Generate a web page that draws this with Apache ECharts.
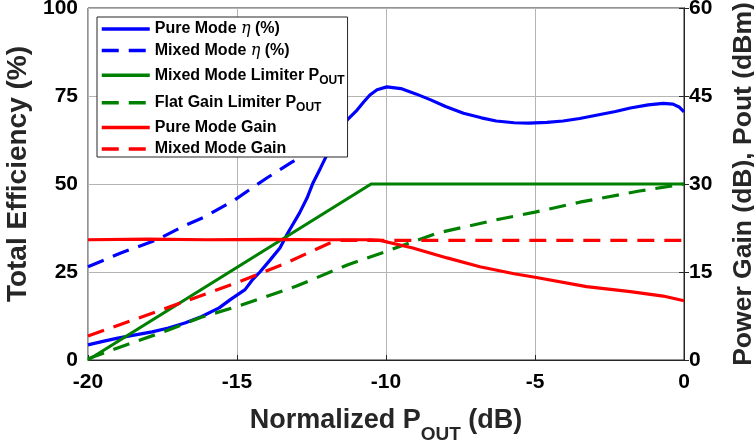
<!DOCTYPE html>
<html>
<head>
<meta charset="utf-8">
<script src="https://cdn.jsdelivr.net/npm/echarts@6/dist/echarts.min.js"></script>
<style>
html,body{margin:0;padding:0;background:#fff;}
#chart{width:754px;height:442px;}
</style>
</head>
<body>
<div id="chart"></div>
<script>
// ---- data ----
const xTicks = [-20, -15, -10, -5, 0];
const leftTicks = [0, 25, 50, 75, 100];
const rightTicks = [0, 15, 30, 45, 60];

const pureModeEff = [
  [-20, 4.3], [-19.5, 5.3], [-19, 6.2], [-18.5, 7.0], [-17.85, 8.0], [-17.3, 9.1],
  [-16.75, 10.5], [-16.2, 12.3], [-15.6, 14.8], [-15.2, 17.3], [-14.73, 20.0],
  [-14.5, 22.6], [-14.23, 25.0], [-13.9, 28.3], [-13.56, 31.8], [-13.3, 36.0],
  [-12.9, 41.8], [-12.65, 46.0], [-12.45, 50.3], [-12.2, 54.5], [-11.9, 59.7],
  [-11.6, 64.5], [-11.3, 68.2], [-10.97, 71.0], [-10.75, 73.3], [-10.54, 75.3],
  [-10.3, 76.8], [-9.97, 77.6], [-9.5, 77.1], [-9, 75.6], [-8.5, 73.9], [-8, 72.0],
  [-7.4, 70.1], [-6.8, 68.8], [-6.3, 67.9], [-5.7, 67.4], [-5.2, 67.3], [-4.6, 67.5],
  [-4.06, 67.9], [-3.5, 68.6], [-2.9, 69.6], [-2.3, 70.6], [-1.8, 71.6], [-1.2, 72.5],
  [-0.7, 72.9], [-0.37, 72.7], [-0.15, 71.8], [0, 70.5]
];
const mixedModeEff = [
  [-20, 26.5], [-18.9, 30.4], [-17.7, 34.1], [-16.7, 38.4], [-16.1, 40.6],
  [-15.07, 45.5], [-14.46, 49.1], [-14.0, 51.7], [-13.2, 56.0], [-12.5, 59.5]
];
const mixedLimiterPout = [[-20, 0], [-10.5, 30], [0, 30]];
const flatLimiterPout = [
  [-20, 0.2], [-18.7, 2.6], [-17.3, 5.1], [-16.2, 7.3], [-15, 9.1], [-13, 12.6],
  [-11.3, 16.2], [-10, 18.5], [-8.3, 21.6], [-6.3, 23.9], [-5, 25.2], [-3.5, 26.9],
  [-1.5, 28.8], [0, 30]
];
const pureModeGain = [
  [-20, 20.5], [-18, 20.6], [-16, 20.5], [-14, 20.55], [-12, 20.5], [-10.5, 20.5],
  [-10.2, 20.4], [-9.1, 19.1], [-7.95, 17.4], [-6.85, 15.9], [-5.7, 14.7], [-5, 14.1],
  [-3.27, 12.5], [-1.8, 11.65], [-0.7, 10.9], [0, 10.1]
];
const mixedModeGain = [
  [-20, 4.1], [-17.5, 8.6], [-15, 13.2], [-13.5, 16.2], [-11.9, 19.9], [-11.5, 20.4], [0, 20.4]
];

const seriesNames = [
  'Pure Mode η (%)', 'Mixed Mode η (%)', 'Mixed Mode Limiter POUT',
  'Flat Gain Limiter POUT', 'Pure Mode Gain', 'Mixed Mode Gain'
];

// ---- chart ----
const FONT = '"Liberation Sans", Arial, Helvetica, sans-serif';
const BLUE = '#0000ff', GREEN = '#008000', RED = '#ff0000';
const DASH = [17, 10];
const chart = echarts.init(document.getElementById('chart'), null, {renderer: 'canvas'});

function line(name, data, color, dashed, yIdx) {
  return {
    name: name, type: 'line', data: data, yAxisIndex: yIdx,
    symbol: 'none', showSymbol: false, smooth: false,
    lineStyle: {color: color, width: 3.2, type: dashed ? DASH : 'solid'},
    itemStyle: {color: color},
    emphasis: {disabled: true}, animation: false
  };
}

const legendRich = {
  a: {fontFamily: FONT, fontWeight: 'bold', fontSize: 16, lineHeight: 18, color: '#000'},
  e: {fontFamily: '"DejaVu Serif", "Liberation Serif", serif', fontStyle: 'italic', fontWeight: 'normal', fontSize: 16, lineHeight: 18, color: '#000'},
  s: {fontFamily: FONT, fontWeight: 'bold', fontSize: 12, lineHeight: 12, padding: [10, 0, 0, 0], color: '#000'}
};
function legendFmt(name) {
  if (name.indexOf('η') >= 0) {
    const parts = name.split('η');
    return '{a|' + parts[0] + '}{e|η}{a|' + parts[1] + '}';
  }
  if (name.endsWith('POUT')) {
    return '{a|' + name.slice(0, -3) + '}{s|OUT}';
  }
  return '{a|' + name + '}';
}

const option = {
  backgroundColor: '#fff',
  animation: false,
  grid: {left: 88, right: 70, top: 8, bottom: 82, outerBoundsMode: 'none', containLabel: false,
    show: true, borderColor: '#262626', borderWidth: 1, backgroundColor: 'transparent'},
  legend: {
    data: seriesNames,
    orient: 'vertical', left: 97, top: 17,
    itemWidth: 48, itemHeight: 18, itemGap: 5.6,
    padding: [4, 3, 0, 3],
    backgroundColor: '#fff', borderColor: '#262626', borderWidth: 1,
    formatter: legendFmt,
    itemStyle: {opacity: 0},
    lineStyle: {width: 3.5},
    textStyle: {fontFamily: FONT, fontWeight: 'bold', fontSize: 16, color: '#000', rich: legendRich},
    selectedMode: false
  },
  xAxis: {
    type: 'value', min: xTicks[0], max: xTicks[xTicks.length - 1], interval: 5,
    name: '{a|Normalized P}{s|OUT}{a| (dB)}',
    nameLocation: 'middle', nameGap: 43,
    nameTextStyle: {
      rich: {
        a: {fontFamily: FONT, fontWeight: 'bold', fontSize: 27, lineHeight: 28, verticalAlign: 'top', color: '#262626'},
        s: {fontFamily: FONT, fontWeight: 'bold', fontSize: 19, lineHeight: 20, padding: [27, 0, 0, 0], color: '#262626'}
      }
    },
    axisLine: {show: true, lineStyle: {color: '#262626', width: 1}},
    axisTick: {show: true, inside: true, length: 5, lineStyle: {color: '#262626'}},
    axisLabel: {fontFamily: FONT, fontWeight: 'bold', fontSize: 21, color: '#000', margin: 12,
      formatter: function (v) { return xTicks.indexOf(v) >= 0 ? String(v) : ''; }},
    splitLine: {show: true, lineStyle: {color: '#b4b4b4', width: 1}}
  },
  yAxis: [
    {
      type: 'value', position: 'left', min: leftTicks[0], max: leftTicks[leftTicks.length - 1], interval: 25,
      name: 'Total Efficiency (%)', nameLocation: 'middle', nameGap: 45,
      nameTextStyle: {fontFamily: FONT, fontWeight: 'bold', fontSize: 28, color: '#262626', padding: [0, 0, 0, 20]},
      axisLine: {show: true, lineStyle: {color: '#262626', width: 1}},
      axisTick: {show: true, inside: true, length: 5, lineStyle: {color: '#262626'}},
      axisLabel: {fontFamily: FONT, fontWeight: 'bold', fontSize: 21, color: '#000', margin: 10},
      splitLine: {show: true, lineStyle: {color: '#b4b4b4', width: 1}}
    },
    {
      type: 'value', position: 'right', min: rightTicks[0], max: rightTicks[rightTicks.length - 1], interval: 15,
      name: 'Power Gain (dB), Pout (dBm)', nameLocation: 'middle', nameGap: 46,
      nameTextStyle: {fontFamily: FONT, fontWeight: 'bold', fontSize: 26.5, color: '#262626'},
      axisLine: {show: true, lineStyle: {color: '#262626', width: 1}},
      axisTick: {show: true, inside: true, length: 5, lineStyle: {color: '#262626'}},
      axisLabel: {fontFamily: FONT, fontWeight: 'bold', fontSize: 21, color: '#000', margin: 5},
      splitLine: {show: false}
    }
  ],
  series: [
    line(seriesNames[0], pureModeEff, BLUE, false, 0),
    line(seriesNames[1], mixedModeEff, BLUE, true, 0),
    line(seriesNames[2], mixedLimiterPout, GREEN, false, 1),
    line(seriesNames[3], flatLimiterPout, GREEN, true, 1),
    line(seriesNames[4], pureModeGain, RED, false, 1),
    line(seriesNames[5], mixedModeGain, RED, true, 1)
  ]
};
chart.setOption(option);
</script>
</body>
</html>
